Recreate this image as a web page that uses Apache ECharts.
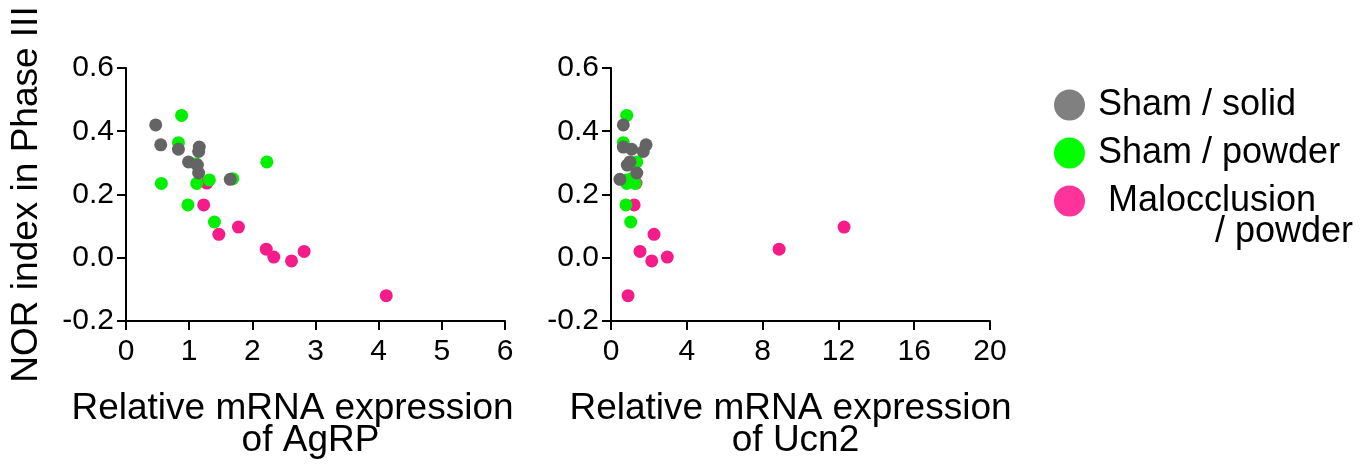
<!DOCTYPE html>
<html>
<head>
<meta charset="utf-8">
<script src="https://cdn.jsdelivr.net/npm/echarts@6/dist/echarts.min.js"></script>
<style>html,body{margin:0;padding:0;background:#fff;}#c{width:1363px;height:464px;}</style>
</head>
<body>
<div id="c"></div>
<script>
// Sham / solid
const solidNOR  = [0.42, 0.357, 0.35, 0.343, 0.336, 0.303, 0.293, 0.268, 0.248];
const solidAgRP = [0.47, 0.55, 1.16, 0.83, 1.15, 0.99, 1.13, 1.15, 1.65];
const solidUcn2 = [0.65, 1.85, 0.65, 1.09, 1.70, 1.00, 0.86, 1.36, 0.47];
// Sham / powder
const powderNOR  = [0.45, 0.364, 0.303, 0.297, 0.25, 0.246, 0.235, 0.235, 0.167, 0.113];
const powderAgRP = [0.88, 0.83, 2.23, 1.11, 1.69, 1.32, 0.56, 1.12, 0.98, 1.40];
const powderUcn2 = [0.83, 0.65, 1.36, 1.25, 1.09, 0.80, 0.83, 1.27, 0.79, 1.04];
// Malocclusion / powder
const malNOR  = [0.236, 0.167, 0.097, 0.074, 0.027, 0.020, 0.002, -0.01, -0.12];
const malAgRP = [1.28, 1.23, 1.78, 1.47, 2.22, 2.82, 2.34, 2.62, 4.12];
const malUcn2 = [1.32, 1.22, 12.3, 2.27, 8.87, 1.53, 2.97, 2.15, 0.90];

const agrpTicks = [0, 6, 1];
const ucn2Ticks = [0, 20, 4];
const norTicks = [-0.2, 0.6, 0.2];

const groupNames = ['Sham / solid', 'Sham / powder', 'Malocclusion'];
const pointColors = ['#646464', '#00f000', '#f51c8a'];
const legendColors = ['#808080', '#00ff00', '#ff3399'];

const FONT = 'Liberation Sans, Arial, sans-serif';
const pairs = (xs, ys) => xs.map((x, i) => [x, ys[i]]);

const axisCommon = {
  axisLine: { show: true, onZero: false, lineStyle: { color: '#000', width: 2 } },
  axisTick: { show: true, inside: false, length: 9, lineStyle: { color: '#000', width: 2 } },
  splitLine: { show: false },
  axisLabel: { color: '#000', fontSize: 30, fontFamily: FONT }
};

function xAxis(idx, ticks, line1, line2, shift1, shift2) {
  return Object.assign({}, axisCommon, {
    type: 'value', gridIndex: idx, min: ticks[0], max: ticks[1], interval: ticks[2],
    name: '{a|' + line1 + '}\n{b|' + line2 + '}', nameLocation: 'middle', nameGap: 72,
    nameTextStyle: {
      color: '#000', fontSize: 37, fontFamily: FONT, lineHeight: 32,
      rich: {
        a: { fontSize: 37, fontFamily: FONT, color: '#000', lineHeight: 32, padding: [0, shift1, 0, 0] },
        b: { fontSize: 37, fontFamily: FONT, color: '#000', lineHeight: 32, padding: [0, shift2, 0, 0] }
      }
    },
    axisLabel: Object.assign({}, axisCommon.axisLabel, { margin: 16 })
  });
}
function yAxis(idx, withName) {
  return Object.assign({}, axisCommon, {
    type: 'value', gridIndex: idx, min: norTicks[0], max: norTicks[1], interval: norTicks[2],
    name: withName ? 'NOR index in Phase III' : '', nameLocation: 'middle', nameRotate: 90, nameGap: 81,
    nameTextStyle: { color: '#000', fontSize: 37, fontFamily: FONT },
    axisLabel: Object.assign({}, axisCommon.axisLabel, { margin: 12, formatter: v => v.toFixed(1) })
  });
}

const groups = [
  { nor: malNOR, agrp: malAgRP, ucn2: malUcn2, k: 2, z: 2 },
  { nor: powderNOR, agrp: powderAgRP, ucn2: powderUcn2, k: 1, z: 3 },
  { nor: solidNOR, agrp: solidAgRP, ucn2: solidUcn2, k: 0, z: 4 }
];
const series = [];
groups.forEach(g => {
  series.push({ type: 'scatter', name: groupNames[g.k], xAxisIndex: 0, yAxisIndex: 0, z: g.z,
    symbolSize: 13, itemStyle: { color: pointColors[g.k], opacity: 1 }, data: pairs(g.agrp, g.nor) });
  series.push({ type: 'scatter', name: groupNames[g.k], xAxisIndex: 1, yAxisIndex: 1, z: g.z,
    symbolSize: 13, itemStyle: { color: pointColors[g.k], opacity: 1 }, data: pairs(g.ucn2, g.nor) });
});

const chart = echarts.init(document.getElementById('c'), null, { renderer: 'canvas' });
chart.setOption({
  animation: false,
  backgroundColor: '#fff',
  grid: [
    { left: 126, top: 68, width: 379, height: 253, containLabel: false, outerBoundsMode: 'none' },
    { left: 611, top: 68, width: 379, height: 253, containLabel: false, outerBoundsMode: 'none' }
  ],
  xAxis: [
    xAxis(0, agrpTicks, 'Relative mRNA expression', 'of AgRP', 46, 10),
    xAxis(1, ucn2Ticks, 'Relative mRNA expression', 'of Ucn2', 20, 10)
  ],
  yAxis: [yAxis(0, true), yAxis(1, false)],
  legend: {
    orient: 'vertical', left: 1049, top: 82, itemWidth: 31, itemHeight: 31, itemGap: 12,
    icon: 'circle', selectedMode: false,
    textStyle: { color: '#000', fontSize: 36, fontFamily: FONT, lineHeight: 36, padding: [0, 0, 0, 8] },
    formatter: n => n === 'Malocclusion' ? ' Malocclusion' : n,
    data: groupNames.map((n, i) => ({ name: n, itemStyle: { color: legendColors[i] } }))
  },
  graphic: [{
    type: 'text', right: 10, top: 214,
    style: { text: '/ powder', fill: '#000', fontSize: 36, fontFamily: FONT }
  }],
  series: series
});
</script>
</body>
</html>
